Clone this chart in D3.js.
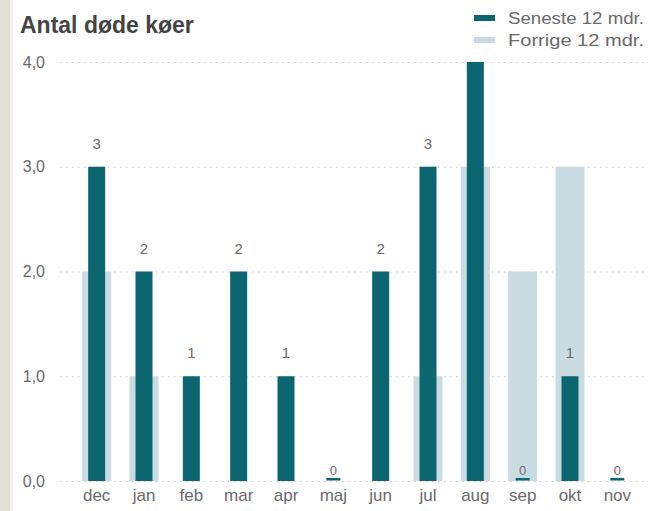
<!DOCTYPE html>
<html>
<head>
<meta charset="utf-8">
<script src="https://cdn.jsdelivr.net/npm/d3@7"></script>
<style>
  body { margin: 0; background: #fff; }
  svg { display: block; font-family: "Liberation Sans", Arial, sans-serif; }
</style>
</head>
<body>
<svg id="chart" width="648" height="511"></svg>
<script>
const MARGINTOP    = 62;
const MARGINBOTTOM = 30;
const MARGINLEFT   = 73;
const MARGINRIGHT  = 7;

var months   = ["dec","jan","feb","mar","apr","maj","jun","jul","aug","sep","okt","nov"];
var seneste  = [3, 2, 1, 2, 1, 0, 2, 3, 4, 0, 1, 0];
var forrige  = [2, 1, 0, 0, 0, 0, 0, 1, 3, 2, 3, 0];
var yTicks   = [0, 1, 2, 3, 4];
var legendLabels = ["Seneste 12 mdr.", "Forrige 12 mdr."];

const DARK  = "#0b6670";
const LIGHT = "#cbdbe2";
const TEXT  = "#6a6a6a";

var W = 648, H = 511;
var vis = d3.select("#chart");

// left stripe
vis.append("rect").attr("x", 0).attr("y", 0).attr("width", 10).attr("height", H).attr("fill", "#e0dfd6");
vis.append("rect").attr("x", 10).attr("y", 0).attr("width", 3).attr("height", H).attr("fill", "#f3f2ec");

var x = d3.scaleBand()
    .domain(months)
    .range([MARGINLEFT, W - MARGINRIGHT]);

var y = d3.scaleLinear()
    .domain([0, 4])
    .range([H - MARGINBOTTOM, MARGINTOP]);

// gridlines + y labels
var yAxis = d3.axisLeft(y)
    .tickValues(yTicks)
    .tickSize(-(W - 60))
    .tickFormat(function(d){ return d3.format(".1f")(d).replace(".", ","); });

var gy = vis.append("g")
    .attr("transform", "translate(60,0)")
    .call(yAxis);
gy.select(".domain").remove();
gy.selectAll(".tick line")
    .attr("stroke", "#c8c8c8")
    .attr("stroke-width", 1.2)
    .attr("stroke-dasharray", "1.5,4.5");
gy.selectAll(".tick text")
    .attr("x", -15)
    .attr("fill", TEXT)
    .attr("font-size", 16);

// x labels
var xAxis = d3.axisBottom(x).tickSize(0);
var gx = vis.append("g")
    .attr("transform", "translate(0," + (H - MARGINBOTTOM) + ")")
    .call(xAxis);
gx.select(".domain").remove();
gx.selectAll(".tick text")
    .attr("dy", "1.0em")
    .attr("fill", TEXT)
    .attr("font-size", 17);

var lightW = 29, darkW = 17;

// previous period (light, wide)
vis.selectAll(".prev")
    .data(forrige)
    .enter().append("rect")
    .attr("class", "prev")
    .attr("x", function(d,i){ return x(months[i]) + x.bandwidth()/2 - lightW/2; })
    .attr("y", function(d){ return y(d); })
    .attr("width", lightW)
    .attr("height", function(d){ return y(0) - y(d); })
    .attr("fill", LIGHT);

// latest period (dark, narrow); zero values get a thin stub
vis.selectAll(".cur")
    .data(seneste)
    .enter().append("rect")
    .attr("class", "cur")
    .attr("x", function(d,i){ return x(months[i]) + x.bandwidth()/2 - (d === 0 ? 7 : darkW/2); })
    .attr("y", function(d){ return d === 0 ? y(0) - 3 : y(d); })
    .attr("width", function(d){ return d === 0 ? 14 : darkW; })
    .attr("height", function(d){ return d === 0 ? 2.5 : y(0) - y(d); })
    .attr("fill", DARK);

// value labels
vis.selectAll(".lbl")
    .data(seneste)
    .enter().append("text")
    .attr("class", "lbl")
    .attr("x", function(d,i){ return x(months[i]) + x.bandwidth()/2; })
    .attr("y", function(d){ return d === 0 ? y(0) - 6 : y(d) - 18; })
    .attr("text-anchor", "middle")
    .attr("fill", TEXT)
    .attr("font-size", function(d){ return d === 0 ? 13 : 15; })
    .text(function(d){ return d; });

// title
vis.append("text")
    .attr("x", 20)
    .attr("y", 33)
    .attr("fill", "#444")
    .attr("font-size", 23)
    .attr("font-weight", "bold")
    .text("Antal døde køer");

// legend (white backing hides anything underneath)
vis.append("rect")
    .attr("x", 466).attr("y", 4)
    .attr("width", W - 466).attr("height", 50)
    .attr("fill", "#fff");

var leg = vis.selectAll(".leg")
    .data(legendLabels)
    .enter().append("g")
    .attr("class", "leg")
    .attr("transform", function(d,i){ return "translate(474," + (18 + i*22) + ")"; });
leg.append("rect")
    .attr("x", 0).attr("y", -3)
    .attr("width", 21).attr("height", 6)
    .attr("fill", function(d,i){ return i === 0 ? DARK : LIGHT; });
leg.append("text")
    .attr("x", 34).attr("y", 6)
    .attr("fill", TEXT)
    .attr("font-size", 17)
    .attr("textLength", 136)
    .attr("lengthAdjust", "spacingAndGlyphs")
    .text(function(d){ return d; });
</script>
</body>
</html>
